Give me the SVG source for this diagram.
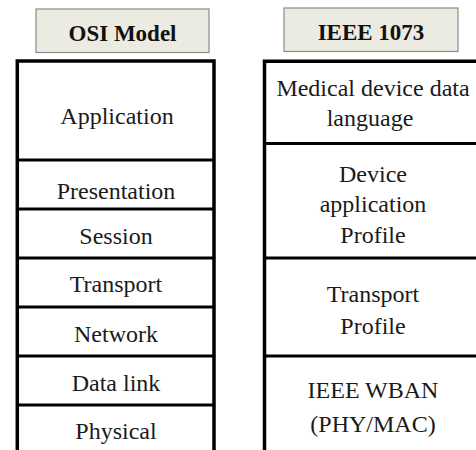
<svg xmlns="http://www.w3.org/2000/svg" width="476" height="450" viewBox="0 0 476 450">
<style>
.hdr{fill:#ecebe1;stroke:#8a8a8a;stroke-width:1.2}
.ht{font-family:"Liberation Serif","Times New Roman",serif;font-weight:bold;font-size:23px;fill:#111;text-anchor:middle}
.t{font-family:"Liberation Serif","Times New Roman",serif;font-size:24px;fill:#1a1a1a;text-anchor:middle}
.ln{stroke:#000;stroke-width:3.5;fill:none}
.dv{stroke:#000;stroke-width:3;fill:none}
</style>
<rect width="476" height="450" fill="#fff"/>
<g id="osi-header">
<rect class="hdr" x="36" y="9" width="173" height="43.5"/>
<text class="ht" x="122.5" y="41">OSI Model</text>
</g>
<g id="ieee-header">
<rect class="hdr" x="284" y="8" width="174" height="43.5"/>
<text class="ht" x="371" y="40">IEEE 1073</text>
</g>
<g id="osi-stack">
<path class="ln" d="M17.3,452 V61 H214 V452"/>
</g>
<g id="osi-application"><text class="t" x="117" y="124">Application</text></g>
<g id="osi-presentation"><path class="dv" d="M17,160 H214"/><text class="t" x="116" y="199">Presentation</text></g>
<g id="osi-session"><path class="dv" d="M17,209 H214"/><text class="t" x="116" y="244">Session</text></g>
<g id="osi-transport"><path class="dv" d="M17,258 H214"/><text class="t" x="116" y="292">Transport</text></g>
<g id="osi-network"><path class="dv" d="M17,307 H214"/><text class="t" x="116" y="342">Network</text></g>
<g id="osi-datalink"><path class="dv" d="M17,356 H214"/><text class="t" x="116" y="391">Data link</text></g>
<g id="osi-physical"><path class="dv" d="M17,405 H214"/><text class="t" x="116" y="439">Physical</text></g>
<g id="ieee-stack">
<path class="ln" d="M264.5,452 V61.3 H478"/>
</g>
<g id="ieee-mddl"><text class="t" x="373" y="96">Medical device data</text><text class="t" x="370" y="126">language</text></g>
<g id="ieee-dap"><path class="dv" d="M264,143.5 H478"/><text class="t" x="373" y="182">Device</text><text class="t" x="373" y="212">application</text><text class="t" x="373" y="243">Profile</text></g>
<g id="ieee-transport"><path class="dv" d="M264,258 H478"/><text class="t" x="373" y="302">Transport</text><text class="t" x="373" y="334">Profile</text></g>
<g id="ieee-wban"><path class="dv" d="M264,356 H478"/><text class="t" x="373" y="398">IEEE WBAN</text><text class="t" x="373" y="432">(PHY/MAC)</text></g>
</svg>
